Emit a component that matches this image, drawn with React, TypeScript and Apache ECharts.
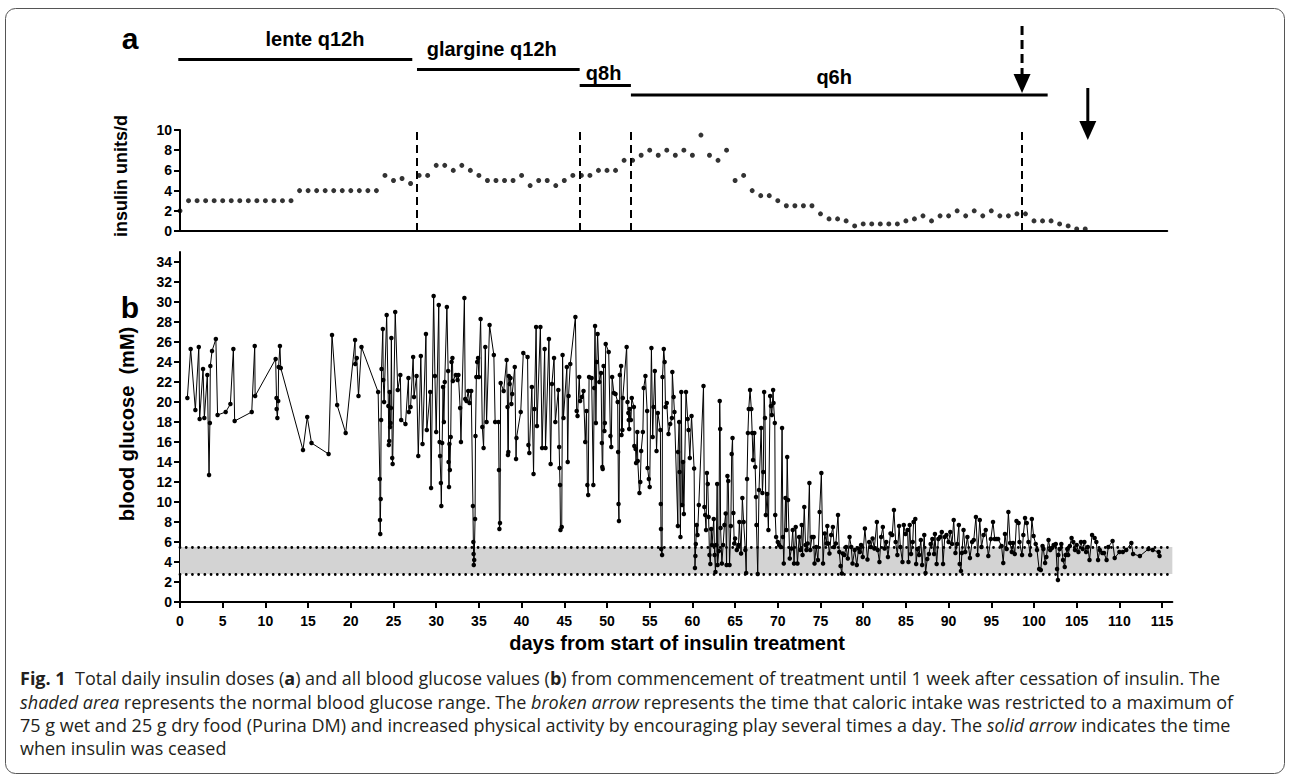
import React, { useEffect, useRef } from "react";
import * as echarts from "echarts";

// ---------- DATA ----------
// Panel a: total daily insulin dose [day, units/d]
const insulinDaily: [number, number][] = [
  [0, 2], [1, 3], [2, 3], [3, 3], [4, 3], [5, 3], [6, 3], [7, 3], [8, 3], [9, 3], [10, 3], [11, 3], [12, 3], [13, 3],
  [14, 4], [15, 4], [16, 4], [17, 4], [18, 4], [19, 4], [20, 4], [21, 4], [22, 4], [23, 4],
  [24, 5.5], [25, 5], [26, 5.2], [27, 4.7], [28, 5.5], [29, 5.5], [30, 6.5], [31, 6.5], [32, 6], [33, 6.5], [34, 6],
  [35, 5.5], [36, 5], [37, 5], [38, 5], [39, 5], [40, 5.5], [41, 4.5], [42, 5], [43, 5], [44, 4.5], [45, 5], [46, 5.5],
  [47, 5.5], [48, 5.5], [49, 6], [50, 6], [51, 6], [52, 7], [53, 7], [54, 7.5], [55, 8], [56, 7.5], [57, 8], [58, 7.5],
  [59, 8], [60, 7.5], [61, 9.5], [62, 7.5], [63, 7], [64, 8], [65, 5], [66, 5.5], [67, 4], [68, 3.5], [69, 3.5], [70, 3],
  [71, 2.5], [72, 2.5], [73, 2.5], [74, 2.5], [75, 1.7], [76, 1.2], [77, 1.2], [78, 1], [79, 0.5], [80, 0.7], [81, 0.7],
  [82, 0.7], [83, 0.7], [84, 0.7], [85, 1], [86, 1.2], [87, 1.5], [88, 1], [89, 1.5], [90, 1.5], [91, 2], [92, 1.5],
  [93, 2], [94, 1.5], [95, 2], [96, 1.5], [97, 1.5], [98, 1.7], [99, 1.7], [100, 1], [101, 1], [102, 1], [103, 0.7],
  [104, 0.5], [105, 0.2], [106, 0.2],
];

// Panel b: blood glucose [day, mM], grouped by treatment phase
const glucoseLente: [number, number][] = [
  [0.86, 20.4], [1.25, 25.3], [1.8, 19.2], [2.2, 25.5], [2.3, 18.3], [2.7, 23.3], [2.85, 18.4], [3.2, 22.7], [3.4, 12.7],
  [3.5, 17.9], [3.55, 23.6], [3.75, 25.1], [4.2, 26.3], [4.4, 18.7], [5.35, 19.0], [5.9, 19.8], [6.25, 25.3], [6.4, 18.1],
  [8.4, 19.0], [8.75, 25.6], [8.8, 20.6], [11.2, 24.3], [11.3, 20.4], [11.32, 19.3], [11.4, 18.4], [11.5, 20.1],
  [11.55, 23.5], [11.7, 25.6], [11.8, 23.4], [14.4, 15.2], [14.9, 18.5], [15.4, 15.9], [17.4, 14.8], [17.8, 26.7],
  [18.4, 19.7], [19.4, 16.9], [20.5, 26.2], [20.52, 23.8], [20.7, 24.4], [20.9, 20.6], [21.25, 25.5], [23.2, 21.0],
  [23.4, 12.3], [23.42, 8.2], [23.45, 6.8], [23.5, 10.3], [23.55, 18.2], [23.6, 23.3], [23.75, 27.3], [23.8, 22.2],
  [23.9, 20.0], [24.2, 28.7], [24.4, 19.6], [24.45, 15.7], [24.5, 16.1], [24.55, 21.0], [24.6, 17.5], [24.65, 17.9],
  [24.7, 19.4], [24.75, 26.4], [24.85, 14.4], [24.9, 13.8], [25.2, 29.0], [25.5, 21.2], [25.8, 22.7], [25.9, 18.2],
  [26.4, 17.8], [26.75, 22.4], [26.8, 19.0], [27.0, 19.5], [27.3, 24.5], [27.4, 20.5], [27.7, 22.6],
];
const glucoseGlargine: [number, number][] = [
  [27.9, 14.6], [28.2, 24.6], [28.4, 15.8], [28.8, 26.8], [28.9, 17.2], [29.3, 21.0], [29.4, 11.4], [29.7, 30.6],
  [29.85, 22.6], [30.0, 17.0], [30.3, 29.7], [30.4, 16.0], [30.45, 14.6], [30.55, 11.9], [30.6, 9.6], [30.7, 15.9],
  [30.8, 21.5], [30.9, 18.0], [31.0, 22.0], [31.25, 29.5], [31.4, 23.1], [31.45, 14.0], [31.5, 11.5], [31.55, 15.8],
  [31.6, 13.2], [31.7, 16.5], [31.8, 24.0], [31.9, 24.4], [31.95, 22.1], [32.3, 22.7], [32.5, 22.2], [32.6, 22.7],
  [32.8, 19.4], [32.9, 16.0], [33.3, 30.4], [33.4, 20.3], [33.55, 20.1], [33.75, 21.1], [33.9, 19.9], [34.1, 21.1],
  [34.3, 9.6], [34.35, 6.0], [34.38, 4.8], [34.4, 3.7], [34.45, 4.2], [34.55, 8.3], [34.6, 16.6], [34.7, 22.5],
  [34.8, 24.0], [34.9, 24.4], [35.0, 22.5], [35.2, 28.3], [35.4, 17.5], [35.55, 15.4], [35.75, 25.5], [35.9, 18.0],
  [36.25, 27.7], [36.75, 24.7], [36.9, 18.0], [37.3, 18.0], [37.35, 13.2], [37.4, 7.3], [37.47, 7.9], [37.55, 21.9],
  [37.9, 21.1], [38.25, 24.2], [38.35, 19.5], [38.4, 14.7], [38.45, 15.0], [38.5, 22.6], [38.6, 21.8], [38.7, 22.4],
  [38.8, 19.8], [38.9, 20.8], [39.2, 23.5], [39.35, 14.3], [39.4, 16.4], [39.9, 19.0], [40.2, 24.9], [40.7, 24.5],
  [40.8, 15.7], [40.9, 14.9], [41.2, 21.5], [41.4, 12.8], [41.5, 19.3], [41.7, 27.5], [41.8, 17.6], [42.2, 27.5],
  [42.4, 15.4], [42.7, 25.3], [42.8, 15.4], [43.2, 26.3], [43.4, 13.8], [43.55, 21.8], [43.8, 24.4], [43.95, 18.0],
  [44.3, 21.2], [44.4, 15.5], [44.45, 13.4], [44.5, 11.7], [44.55, 7.2], [44.7, 7.5], [44.8, 24.7], [44.9, 18.4],
  [45.3, 23.5], [45.4, 14.0], [45.5, 20.6], [45.7, 23.8], [46.3, 28.5], [46.45, 19.1], [46.55, 18.6], [46.75, 22.5],
];
const glucoseQ8h: [number, number][] = [
  [46.85, 20.1], [47.05, 20.5], [47.25, 21.1], [47.45, 16.0], [47.6, 19.1], [47.7, 11.7], [47.8, 10.7], [47.9, 22.5],
  [48.2, 22.4], [48.4, 11.7], [48.5, 21.4], [48.6, 27.6], [48.7, 17.9], [48.8, 24.0], [48.9, 26.8], [49.1, 22.0],
  [49.3, 22.9], [49.4, 15.9], [49.45, 13.5], [49.5, 13.3], [49.6, 23.6], [49.7, 17.1], [49.75, 17.9], [49.85, 25.8],
  [50.2, 25.0], [50.4, 16.6], [50.5, 15.5], [50.6, 22.5], [50.8, 20.9], [51.0, 20.8], [51.25, 20.0], [51.3, 15.0],
  [51.35, 9.8], [51.4, 8.1], [51.5, 22.7], [51.65, 23.6], [51.7, 16.7], [51.8, 17.2], [51.85, 20.4], [52.3, 25.5],
  [52.4, 20.0], [52.5, 18.9], [52.55, 18.2], [52.6, 17.3], [52.65, 19.3],
];
const glucoseQ6h: [number, number][] = [
  [52.8, 18.2], [52.9, 20.4], [53.15, 19.5], [53.2, 15.6], [53.35, 15.3], [53.4, 13.9], [53.55, 17.0], [53.6, 14.1],
  [53.8, 10.9], [53.9, 12.0], [54.0, 15.1], [54.2, 17.0], [54.3, 21.4], [54.5, 22.6], [54.7, 19.1], [54.75, 13.4],
  [54.9, 12.3], [55.0, 11.5], [55.2, 25.4], [55.35, 16.5], [55.45, 19.5], [55.6, 23.1], [55.8, 15.1], [55.95, 18.9],
  [56.25, 17.2], [56.3, 9.8], [56.32, 7.3], [56.35, 5.3], [56.45, 4.7], [56.5, 22.5], [56.65, 25.3], [56.75, 24.0],
  [56.85, 19.5], [57.0, 19.9], [57.2, 16.8], [57.4, 17.8], [57.6, 18.4], [57.65, 23.0], [57.8, 20.5], [57.9, 19.0],
  [58.3, 7.6], [58.32, 15.0], [58.45, 18.0], [58.5, 13.0], [58.6, 6.5], [58.7, 21.0], [58.8, 9.7], [58.9, 14.0],
  [59.0, 8.8], [59.25, 21.0], [59.45, 18.3], [59.55, 17.2], [59.7, 14.4], [59.9, 18.6], [60.2, 13.35], [60.3, 3.4],
  [60.35, 4.6], [60.4, 5.8], [60.5, 7.7], [60.6, 6.7], [60.75, 9.7], [61.3, 21.6], [61.4, 9.5], [61.5, 8.7],
  [61.6, 7.2], [61.7, 12.9], [61.8, 11.8], [61.9, 8.5], [62.0, 4.7], [62.1, 3.8], [62.2, 7.3], [62.3, 5.7],
  [62.5, 8.3], [62.6, 4.7], [62.7, 3.0], [62.8, 5.7], [62.9, 11.8], [62.95, 3.7], [63.1, 5.1], [63.2, 20.1],
  [63.25, 17.3], [63.3, 7.4], [63.45, 3.85], [63.6, 5.7], [63.75, 7.7], [63.9, 8.85], [64.0, 3.7], [64.1, 12.6],
  [64.2, 12.1], [64.35, 3.7], [64.5, 7.6], [64.6, 14.8], [64.7, 16.4], [64.8, 8.9], [64.9, 5.85], [65.0, 6.35],
  [65.2, 5.2], [65.4, 5.7], [65.5, 8.0], [65.7, 4.85], [65.85, 10.4], [66.0, 8.0], [66.2, 5.2], [66.3, 2.9],
  [66.4, 12.3], [66.5, 16.9], [66.6, 19.3], [66.75, 21.2], [66.9, 19.3], [67.0, 16.9], [67.1, 14.2], [67.25, 16.9],
  [67.35, 13.5], [67.45, 10.5], [67.5, 7.7], [67.65, 2.8], [67.8, 11.2], [68.05, 17.4], [68.2, 10.9], [68.3, 13.0],
  [68.4, 21.0], [68.5, 18.4], [68.6, 8.7], [68.75, 10.8], [68.9, 7.2], [69.1, 20.6], [69.2, 19.6], [69.3, 18.7],
  [69.45, 21.2], [69.5, 19.9], [69.65, 17.9], [69.7, 8.7], [69.8, 6.5], [70.0, 6.0], [70.15, 5.7], [70.35, 5.5],
  [70.5, 17.4], [70.6, 6.5], [70.7, 3.85], [70.9, 10.4], [71.0, 7.2], [71.1, 14.5], [71.2, 10.2], [71.4, 4.35],
  [71.6, 5.35], [71.75, 7.2], [71.9, 3.85], [72.1, 7.5], [72.3, 3.85], [72.5, 6.5], [72.65, 5.2], [72.8, 7.7],
  [72.9, 4.7], [73.1, 9.5], [73.25, 5.7], [73.35, 5.2], [73.5, 5.85], [73.7, 11.9], [73.8, 5.2], [74.0, 6.5],
  [74.2, 6.5], [74.3, 3.85], [74.5, 5.5], [74.7, 4.2], [74.9, 9.0], [75.1, 12.9], [75.3, 3.85], [75.5, 6.85],
  [75.7, 5.85], [75.8, 7.6], [75.9, 5.85], [76.05, 4.85], [76.25, 6.7], [76.45, 7.5], [76.6, 5.5], [76.8, 5.85],
  [77.05, 8.7], [77.2, 5.0], [77.35, 3.6], [77.5, 2.85], [77.6, 4.85], [77.8, 4.7], [78.0, 5.5], [78.2, 4.35],
  [78.4, 6.5], [78.6, 5.5], [78.75, 3.85], [79.0, 5.2], [79.25, 3.7], [79.45, 5.35], [79.6, 5.0], [79.75, 5.7],
  [79.95, 4.5], [80.2, 7.35], [80.5, 4.25], [80.7, 6.0], [80.9, 5.5], [81.1, 6.35], [81.3, 5.35], [81.6, 8.0],
  [81.7, 5.2], [81.9, 4.0], [82.1, 6.5], [82.3, 7.5], [82.5, 5.35], [82.7, 6.0], [82.9, 4.5], [83.2, 6.85],
  [83.4, 6.7], [83.6, 9.2], [83.8, 6.0], [84.0, 4.7], [84.2, 7.6], [84.35, 5.5], [84.6, 4.0], [84.75, 7.7],
  [84.95, 6.8], [85.2, 7.2], [85.3, 4.0], [85.45, 7.7], [85.6, 4.8], [85.8, 6.0], [85.9, 8.0], [86.1, 8.3],
  [86.2, 3.8], [86.35, 5.3], [86.55, 4.7], [86.75, 6.2], [86.9, 3.7], [87.15, 6.7], [87.3, 2.9], [87.5, 4.3],
  [87.7, 4.8], [87.9, 5.8], [88.1, 6.3], [88.3, 4.8], [88.4, 6.8], [88.6, 3.8], [88.8, 6.3], [89.0, 6.5],
  [89.2, 7.0], [89.35, 3.8], [89.55, 6.5], [89.75, 6.7], [90.0, 6.0], [90.2, 7.0], [90.4, 5.8], [90.6, 8.2],
  [90.8, 4.9], [91.0, 5.8], [91.2, 7.7], [91.3, 3.8], [91.45, 3.1], [91.55, 4.9], [91.75, 7.2], [91.95, 5.0],
  [92.2, 6.5], [92.5, 4.4], [92.75, 6.0], [92.95, 6.2], [93.2, 8.5], [93.4, 4.7], [93.65, 8.2], [93.85, 5.5],
  [94.1, 6.7], [94.35, 7.2], [94.65, 4.6], [94.95, 6.3], [95.2, 8.0], [95.4, 6.3], [95.6, 6.3], [95.8, 6.3],
  [96.2, 5.6], [96.4, 3.9], [96.6, 6.8], [96.8, 5.3], [97.0, 9.0], [97.2, 5.9], [97.4, 5.0], [97.55, 5.9],
  [97.75, 4.8], [97.95, 8.1], [98.2, 7.9], [98.3, 6.0],
];
const glucoseRestricted: [number, number][] = [
  [98.6, 4.7], [98.75, 6.7], [98.95, 8.4], [99.15, 7.9], [99.35, 6.0], [99.55, 4.7], [99.75, 8.3], [99.95, 6.6],
  [100.2, 5.8], [100.35, 5.2], [100.6, 3.3], [100.8, 3.2], [101.0, 5.6], [101.1, 5.3], [101.3, 3.9], [101.45, 4.5],
  [101.7, 6.2], [101.9, 5.2], [102.1, 5.4], [102.3, 5.7], [102.55, 5.8], [102.7, 3.3], [102.8, 2.2], [102.85, 4.7],
  [103.0, 5.3], [103.2, 5.8], [103.4, 4.2], [103.6, 3.5], [103.7, 4.7], [103.9, 5.3], [104.0, 4.7], [104.2, 5.6],
  [104.4, 6.4], [104.6, 6.0], [104.8, 5.2], [105.0, 5.7], [105.2, 5.0], [105.5, 6.0], [105.7, 5.3], [105.9, 6.0],
  [106.1, 5.0],
];
const glucoseOffInsulin: [number, number][] = [
  [106.3, 5.5], [106.5, 4.2], [106.8, 6.7], [107.1, 6.4], [107.3, 6.0], [107.5, 4.2], [107.7, 5.2], [108.0, 4.9],
  [108.2, 4.9], [108.5, 4.2], [108.7, 5.5], [109.2, 6.1], [109.45, 4.4], [110.0, 5.0], [110.4, 5.0], [110.8, 5.2],
  [111.4, 5.9], [111.6, 4.8], [112.4, 4.6], [113.4, 5.3], [113.9, 5.2], [114.6, 5.0], [114.7, 4.6],
];

// Treatment regimens (days)
const regimenNames = ["lente q12h", "glargine q12h", "q8h", "q6h"];
const regimenStartDay = [-0.2, 27.75, 46.8, 52.8];
const regimenEndDay = [27.2, 46.8, 52.8, 101.6];
const regimenChangeDays = [27.75, 46.8, 52.8, 98.6];
const restrictionDay = 98.6; // broken arrow
const insulinCeasedDay = 106.3; // solid arrow
const normalRange = [2.8, 5.5];

// Tick labels
const dayTicks = [0, 5, 10, 15, 20, 25, 30, 35, 40, 45, 50, 55, 60, 65, 70, 75, 80, 85, 90, 95, 100, 105, 110, 115];
const glucoseTicks = [0, 2, 4, 6, 8, 10, 12, 14, 16, 18, 20, 22, 24, 26, 28, 30, 32, 34];
const insulinTicks = [0, 2, 4, 6, 8, 10];

const captionLines = [
  "{b|Fig. 1}  Total daily insulin doses ({b|a}) and all blood glucose values ({b|b}) from commencement of treatment until 1 week after cessation of insulin. The",
  "{i|shaded area} represents the normal blood glucose range. The {i|broken arrow} represents the time that caloric intake was restricted to a maximum of",
  "75 g wet and 25 g dry food (Purina DM) and increased physical activity by encouraging play several times a day. The {i|solid arrow} indicates the time",
  "when insulin was ceased",
];

// ---------- COMPONENT ----------
export default function App() {
  const ref = useRef<HTMLDivElement>(null);

  useEffect(() => {
    if (!ref.current) return;
    const chart = echarts.init(ref.current, null, { renderer: "svg" });
    const FONT = "'Liberation Sans', Arial, Helvetica, sans-serif";
    const CAP_FONT = "'Open Sans', 'Noto Sans', sans-serif";
    const CAP_SIZE = 18;
    const glucose = [
      ...glucoseLente, ...glucoseGlargine, ...glucoseQ8h, ...glucoseQ6h, ...glucoseRestricted, ...glucoseOffInsulin,
    ];
    const pxPerDay = 8.54;
    const axisLabelStyle = { color: "#000", fontFamily: FONT, fontWeight: "bold" as const, fontSize: 14 };

    const option: any = {
      animation: false,
      backgroundColor: "#fff",
      grid: [
        { left: 180, top: 130, width: 115.6 * pxPerDay, height: 101, outerBoundsMode: "none", containLabel: false },
        { left: 180, top: 252, width: 116.2 * pxPerDay, height: 350, outerBoundsMode: "none", containLabel: false },
      ],
      xAxis: [
        {
          type: "value", gridIndex: 0, min: 0, max: 115.6,
          axisLine: { show: true, onZero: false, lineStyle: { color: "#000", width: 2 } },
          axisTick: { show: false }, axisLabel: { show: false }, splitLine: { show: false },
        },
        {
          type: "value", gridIndex: 1, min: 0, max: 116.2,
          axisLine: { show: true, onZero: false, lineStyle: { color: "#000", width: 2 } },
          axisTick: { show: true, length: 6, lineStyle: { color: "#000", width: 2 }, customValues: dayTicks },
          axisLabel: { ...axisLabelStyle, margin: 12, customValues: dayTicks },
          splitLine: { show: false },
        },
      ],
      yAxis: [
        {
          type: "value", gridIndex: 0, min: 0, max: 10,
          axisLine: { show: true, onZero: false, lineStyle: { color: "#000", width: 2 } },
          axisTick: { show: true, length: 6, lineStyle: { color: "#000", width: 2 }, customValues: insulinTicks },
          axisLabel: { ...axisLabelStyle, margin: 8, customValues: insulinTicks },
          splitLine: { show: false },
        },
        {
          type: "value", gridIndex: 1, min: 0, max: 35,
          axisLine: { show: true, onZero: false, lineStyle: { color: "#000", width: 2 } },
          axisTick: { show: true, length: 6, lineStyle: { color: "#000", width: 2 }, customValues: glucoseTicks },
          axisLabel: { ...axisLabelStyle, margin: 8, customValues: glucoseTicks },
          splitLine: { show: false },
        },
      ],
      series: [
        {
          name: "insulin units/d",
          type: "scatter",
          xAxisIndex: 0, yAxisIndex: 0,
          data: insulinDaily,
          symbol: "circle", symbolSize: 5,
          itemStyle: { color: "#000" },
          markLine: {
            silent: true, symbol: "none", animation: false,
            label: { show: false },
            lineStyle: { color: "#000", width: 2, type: [8, 5] },
            data: regimenChangeDays.map((d) => ({ xAxis: d })),
          },
        },
        {
          name: "blood glucose (mM)",
          type: "line",
          xAxisIndex: 1, yAxisIndex: 1,
          data: glucose,
          symbol: "circle", symbolSize: 4.5, showSymbol: true,
          lineStyle: { color: "#000", width: 1 },
          itemStyle: { color: "#000" },
          z: 3,
          markArea: {
            silent: true,
            itemStyle: { color: "#d3d3d3" },
            data: [[{ yAxis: normalRange[0] }, { yAxis: normalRange[1] }]],
          },
          markLine: {
            silent: true, symbol: "none", animation: false,
            label: { show: false },
            lineStyle: { color: "#000", width: 2.8, type: [0.01, 6.2], cap: "round" },
            data: normalRange.map((v) => ({ yAxis: v })),
          },
        },
      ],
    };
    chart.setOption(option);

    const px = (d: number) => chart.convertToPixel({ xAxisIndex: 0 }, d) as number;
    const txt = (text: string, x: number, y: number, size: number, extra: any = {}) => ({
      type: "text",
      x, y,
      ...extra,
      style: {
        text,
        fill: "#000",
        fontFamily: FONT,
        fontWeight: "bold",
        fontSize: size,
        align: "center",
        verticalAlign: "middle",
        textAlign: "center",
        textVerticalAlign: "middle",
      },
    });

    const regimenLineY = [59.5, 69.5, 85.5, 95];
    const regimenLabelY = [39, 49, 73, 77];
    const regimenLabelDay = [15.8, 36.5, 49.6, 76.6];

    const graphics: any[] = [
      {
        type: "rect",
        shape: { x: 5.5, y: 8.5, width: 1279, height: 765, r: 10 },
        style: { fill: "none", stroke: "#555", lineWidth: 1 },
        silent: true,
      },
      txt("a", 130, 38, 30),
      txt("b", 130, 307, 30),
      txt("insulin units/d", 121, 176, 18, { rotation: Math.PI / 2 }),
      txt("blood glucose  (mM)", 127, 424, 20, { rotation: Math.PI / 2 }),
      txt("days from start of insulin treatment", 677, 643, 20),
    ];

    regimenNames.forEach((name, i) => {
      graphics.push({
        type: "line",
        shape: { x1: px(regimenStartDay[i]), y1: regimenLineY[i], x2: px(regimenEndDay[i]), y2: regimenLineY[i] },
        style: { stroke: "#000", lineWidth: 3 },
      });
      graphics.push(txt(name, px(regimenLabelDay[i]), regimenLabelY[i], 20));
    });

    // broken arrow (caloric restriction)
    const xb = px(restrictionDay);
    graphics.push({
      type: "line",
      shape: { x1: xb, y1: 26, x2: xb, y2: 76 },
      style: { stroke: "#000", lineWidth: 3, lineDash: [9, 5] },
    });
    graphics.push({
      type: "polygon",
      shape: { points: [[xb - 8.5, 74], [xb + 8.5, 74], [xb, 93]] },
      style: { fill: "#000" },
    });
    // solid arrow (insulin ceased)
    const xs = px(insulinCeasedDay);
    graphics.push({
      type: "line",
      shape: { x1: xs, y1: 88, x2: xs, y2: 123 },
      style: { stroke: "#000", lineWidth: 3 },
    });
    graphics.push({
      type: "polygon",
      shape: { points: [[xs - 8.5, 121], [xs + 8.5, 121], [xs, 140]] },
      style: { fill: "#000" },
    });

    // caption
    const capY = [678, 702, 725, 748];
    captionLines.forEach((line, i) => {
      graphics.push({
        type: "text",
        x: 20,
        y: capY[i],
        style: {
          text: line,
          fill: "#231f20",
          fontFamily: CAP_FONT,
          fontSize: CAP_SIZE,
          align: "left",
          verticalAlign: "middle",
          textAlign: "left",
          textVerticalAlign: "middle",
          rich: {
            b: { fontFamily: CAP_FONT, fontSize: CAP_SIZE, fontWeight: "bold", fill: "#231f20" },
            i: { fontFamily: CAP_FONT, fontSize: CAP_SIZE, fontStyle: "italic", fill: "#231f20" },
          },
        },
      });
    });

    chart.setOption({ graphic: { elements: graphics } });

    return () => chart.dispose();
  }, []);

  return (
    <div
      ref={ref}
      style={{ position: "fixed", left: 0, top: 0, width: 1290, height: 778, background: "#fff" }}
    />
  );
}
